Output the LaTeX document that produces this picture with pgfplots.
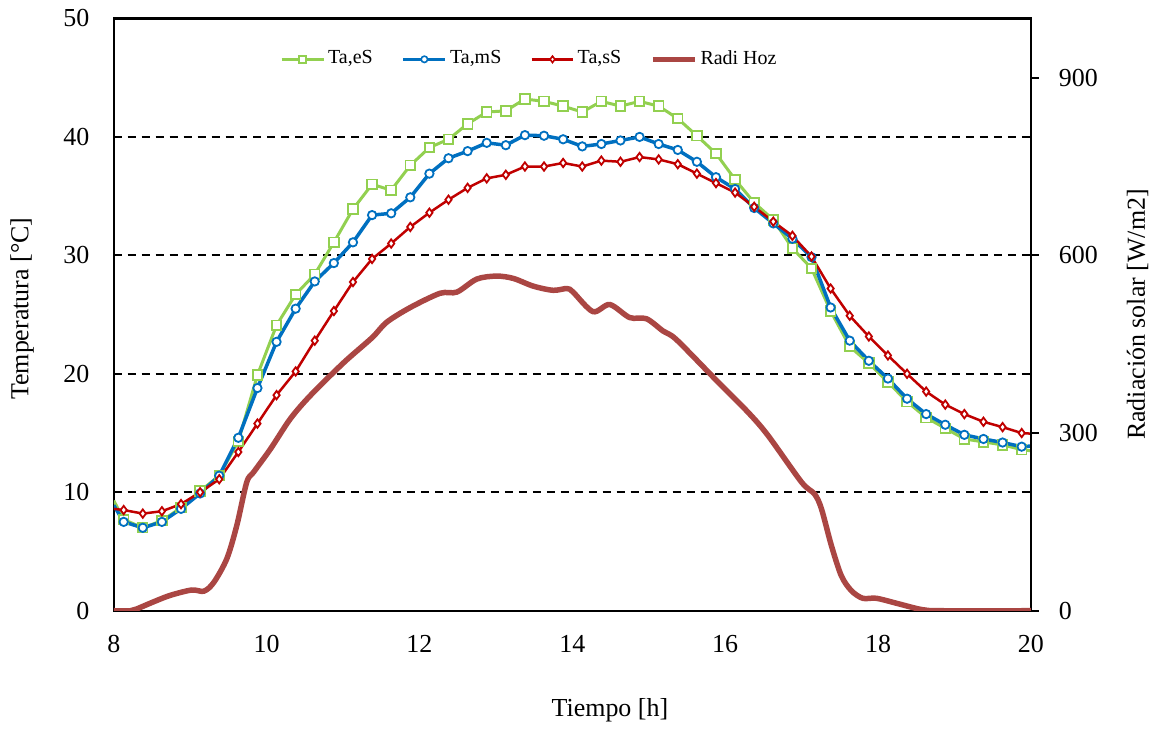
\documentclass[border=0pt]{standalone}
\usepackage{pgfplots}
\pgfplotsset{compat=1.18}
\usepackage{pgfplotstable}
\usepackage{fontspec}
\setmainfont{Liberation Serif}
\definecolor{cg}{RGB}{146,208,80}
\definecolor{cb}{RGB}{0,112,192}
\definecolor{cr}{RGB}{192,0,0}
\definecolor{crad}{RGB}{170,70,67}

\pgfplotstableread{
h e m s
8.00 9.3 8.9 8.6
8.13 7.7 7.5 8.5
8.38 7.0 7.0 8.2
8.63 7.6 7.5 8.4
8.88 8.7 8.6 9.0
9.13 10.1 9.9 10.0
9.38 11.4 11.4 11.1
9.63 14.3 14.6 13.4
9.88 19.9 18.8 15.8
10.13 24.1 22.7 18.2
10.38 26.7 25.5 20.2
10.63 28.4 27.8 22.8
10.88 31.1 29.35 25.3
11.13 33.9 31.1 27.75
11.38 36.0 33.4 29.7
11.63 35.5 33.55 31.0
11.88 37.6 34.9 32.4
12.13 39.1 36.9 33.6
12.38 39.8 38.2 34.7
12.63 41.1 38.8 35.7
12.88 42.1 39.5 36.5
13.13 42.2 39.3 36.8
13.38 43.2 40.15 37.5
13.63 43.0 40.1 37.5
13.88 42.6 39.8 37.8
14.13 42.1 39.2 37.5
14.38 43.0 39.4 38.0
14.63 42.6 39.7 37.9
14.88 43.0 40.0 38.3
15.13 42.6 39.4 38.1
15.38 41.55 38.9 37.7
15.63 40.1 37.9 36.9
15.88 38.6 36.6 36.1
16.13 36.4 35.6 35.3
16.38 34.45 34.0 34.1
16.63 33.0 32.7 32.85
16.88 30.6 31.4 31.65
17.13 28.9 29.85 29.9
17.38 25.3 25.6 27.2
17.63 22.3 22.8 24.9
17.88 20.9 21.1 23.15
18.13 19.3 19.6 21.55
18.38 17.65 17.9 20.0
18.63 16.3 16.6 18.5
18.88 15.4 15.7 17.4
19.13 14.5 14.85 16.6
19.38 14.25 14.5 15.95
19.63 14.0 14.2 15.5
19.88 13.6 13.85 15.0
20.00 13.5 13.9 14.95
}\temps

\pgfplotstableread{
h r
8.00 0
8.22 0
8.30 3
8.52 15
8.74 26
9.02 35
9.18 33
9.31 48
9.48 88
9.61 144
9.74 217
9.83 234
10.05 273
10.31 324
10.57 363
11.01 419
11.38 461
11.57 487
11.88 512
12.27 536
12.49 538
12.75 560
13.01 565
13.23 561
13.49 548
13.75 541
13.93 544
14.01 538
14.27 505
14.49 517
14.75 495
14.97 493
15.19 472
15.36 458
15.87 391
16.30 335
16.56 296
17.00 217
17.17 197
17.26 172
17.39 110
17.52 59
17.65 34
17.80 21
17.98 21
18.26 12
18.57 2
18.83 0
20.00 0
}\rad

\begin{document}
\fontsize{13}{15.6}\selectfont
\begin{tikzpicture}[font=\fontsize{13}{15.6}\selectfont]
\pgfplotsset{
  base/.style={
    width=459.5pt, height=296.75pt, scale only axis,
    xmin=8, xmax=20,
    /pgf/number format/assume math mode=true,
    tick label style={font=\fontsize{13}{15.6}\selectfont},
    label style={font=\fontsize{13}{15.6}\selectfont},
  },
}
\begin{axis}[base, name=ax,
  ymin=0, ymax=50,
  ytick={0,10,...,50}, xtick={8,10,...,20},
  extra y ticks={10,20,30,40}, extra y tick labels={},
  extra y tick style={grid=major, major tick length=0pt},
  grid style={black, line width=1.1pt, dash pattern=on 4pt off 3pt},
  major tick length=0pt,
  axis line style={line width=1.2pt},
  yticklabel style={xshift=-7.7pt},
  xticklabel style={yshift=-8pt},
  xlabel={Tiempo [h]},
  xlabel style={at={(axis description cs:0.541,-0.168)}, anchor=center},
  ylabel={Temperatura [°C]},
  ylabel style={at={(axis description cs:-0.100,0.51)}, anchor=center},
]
\addplot[cg, line width=1.5pt, mark=square*, mark size=2.4pt,
  mark options={fill=white, draw=cg, line width=0.9pt}, mark indices={2,...,49}]
  table[x=h, y=e]{\temps};
\addplot[cb, line width=1.75pt, mark=*, mark size=2.1pt,
  mark options={fill=white, draw=cb, line width=0.9pt}, mark indices={2,...,49}]
  table[x=h, y=m]{\temps};
\addplot[cr, line width=1.25pt, mark=diamond*, mark size=2.1pt,
  mark options={fill=white, draw=cr, line width=0.9pt}, mark indices={2,...,49}]
  table[x=h, y=s]{\temps};
\end{axis}
\begin{axis}[base,
  ymin=0, ymax=1000,
  axis x line=none, axis y line*=right, axis line style={-, line width=1.2pt},
  xtick=\empty,
  ytick={0,300,600,900}, tick align=outside, major tick length=4pt,
  ytick style={black, line width=1pt},
  yticklabel style={xshift=5.5pt},
  ylabel={Radiación solar [W/m2]},
  ylabel style={at={(axis description cs:1.1164,0.5)}, anchor=center},
  legend columns=4,
  legend image code/.code={\draw[mark repeat=2,mark phase=2,#1] plot coordinates {(0pt,0pt) (10.5pt,0pt) (21pt,0pt)};},
  legend style={draw=none, fill=none, at={(axis description cs:0.4537,0.931)}, anchor=center,
    font=\fontsize{10}{12}\selectfont,
    nodes={inner sep=1.5pt},
    /tikz/every even column/.append style={column sep=13pt}},
]
\addlegendimage{cg, line width=1.5pt, mark=square*, mark size=1.7pt, mark options={fill=white, draw=cg, line width=0.8pt}}
\addlegendentry{Ta,eS}
\addlegendimage{cb, line width=1.75pt, mark=*, mark size=1.6pt, mark options={fill=white, draw=cb, line width=0.8pt}}
\addlegendentry{Ta,mS}
\addlegendimage{cr, line width=1.25pt, mark=diamond*, mark size=1.6pt, mark options={fill=white, draw=cr, line width=0.8pt}}
\addlegendentry{Ta,sS}
\addplot[crad, line width=2.75pt, smooth, no markers] table[x=h, y=r]{\rad};
\addlegendentry{Radi Hoz}
\end{axis}
\path ([xshift=-57pt,yshift=-57.5pt]ax.south west) rectangle ([xshift=62pt,yshift=9.25pt]ax.north east);
\end{tikzpicture}
\end{document}
